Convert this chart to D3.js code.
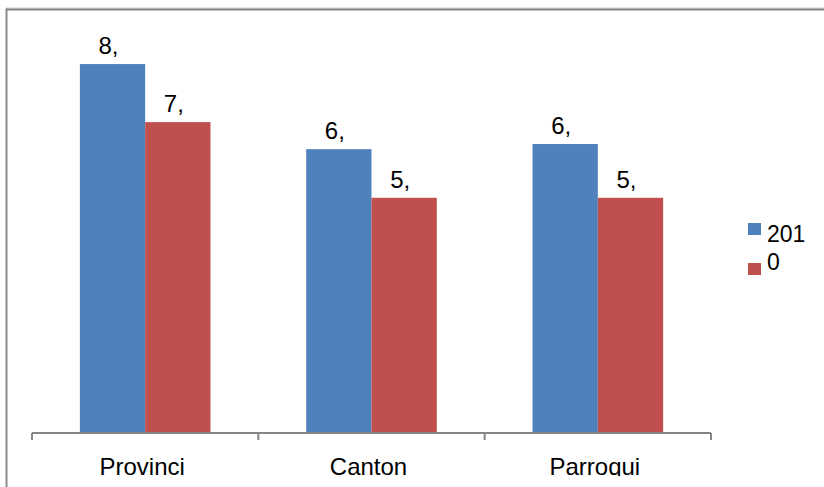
<!DOCTYPE html>
<html>
<head>
<meta charset="utf-8">
<script src="https://cdn.jsdelivr.net/npm/d3@7"></script>
<style>
  html, body { margin: 0; padding: 0; background: #fff; }
  svg { display: block; }
  text { font-family: "Liberation Sans", Arial, sans-serif; fill: #000; }
</style>
</head>
<body>
<svg id="chart" width="824" height="487"></svg>
<script>
// Chart data
const categories = ["Provinci", "Canton", "Parroqui"];
const seriesNames = ["201", "0"];
const seriesA = [8.58, 6.60, 6.72];
const seriesB = [7.23, 5.47, 5.47];
const seriesColors = ["#4F81BD", "#C0504D"];

const svg = d3.select("#chart");
const W = 824, H = 487;

// frame lines (top and left edges of the chart area)
svg.append("line").attr("x1", 6).attr("x2", W).attr("y1", 8).attr("y2", 8)
  .attr("stroke", "#d0d0d0").attr("stroke-width", 1);
svg.append("line").attr("x1", 6).attr("x2", W).attr("y1", 9.5).attr("y2", 9.5)
  .attr("stroke", "#828282").attr("stroke-width", 2);
svg.append("line").attr("x1", 6.5).attr("x2", 6.5).attr("y1", 8.5).attr("y2", H)
  .attr("stroke", "#8a8a8a").attr("stroke-width", 2);

const baseY = 433;
const x0 = d3.scaleBand().domain(categories).range([32, 711]).paddingInner(0).paddingOuter(0);
const x1 = d3.scaleBand().domain(seriesNames).range([0, x0.bandwidth()])
  .paddingInner(0).paddingOuter(0.733);
const y = d3.scaleLinear().domain([0, 10]).range([baseY, 3]);

const rows = categories.map((c, i) => ({
  cat: c,
  vals: [seriesA[i], seriesB[i]]
}));

const groups = svg.append("g").selectAll("g").data(rows).join("g")
  .attr("transform", d => `translate(${x0(d.cat)},0)`);

groups.selectAll("rect")
  .data(d => d.vals.map((v, j) => ({ name: seriesNames[j], v, j })))
  .join("rect")
  .attr("x", d => x1(d.name))
  .attr("width", x1.bandwidth())
  .attr("y", d => y(d.v))
  .attr("height", d => baseY - y(d.v))
  .attr("fill", d => seriesColors[d.j]);

// value labels (integer part with decimal comma)
groups.selectAll("text.val")
  .data(d => d.vals.map((v, j) => ({ name: seriesNames[j], v, j })))
  .join("text")
  .attr("class", "val")
  .attr("x", d => x1(d.name) + x1.bandwidth() / 2 - 4)
  .attr("y", d => y(d.v) - 10)
  .attr("text-anchor", "middle")
  .attr("font-size", 24)
  .text(d => Math.floor(d.v) + ",");

// category axis
const axis = d3.axisBottom(x0).tickSize(0).tickFormat("");
const axisG = svg.append("g").attr("transform", `translate(0,${baseY})`).call(axis);
axisG.select(".domain").attr("stroke", "#868686").attr("stroke-width", 2)
  .attr("d", `M32,0H711`);
const bounds = [...categories.map(c => x0(c)), x0.range()[1]];
axisG.selectAll("line.bound").data(bounds).join("line")
  .attr("class", "bound")
  .attr("x1", d => d).attr("x2", d => d)
  .attr("y1", 0).attr("y2", 7)
  .attr("stroke", "#868686").attr("stroke-width", 2);

// category labels, cut off at the lower edge of the chart area
svg.append("clipPath").attr("id", "labelClip")
  .append("rect").attr("x", 0).attr("y", 0).attr("width", W).attr("height", 476);
svg.append("g").attr("clip-path", "url(#labelClip)")
  .selectAll("text").data(categories).join("text")
  .attr("x", d => x0(d) + x0.bandwidth() / 2 - 3)
  .attr("y", 475)
  .attr("text-anchor", "middle")
  .attr("font-size", 24)
  .text(d => d);

// legend
const legend = svg.append("g");
const legendRows = seriesNames.map((n, i) => ({ n, i }));
legend.selectAll("rect").data(legendRows).join("rect")
  .attr("x", 748).attr("y", d => 223 + d.i * 40)
  .attr("width", 13).attr("height", 12)
  .attr("fill", d => seriesColors[d.i]);
legend.selectAll("text").data(legendRows).join("text")
  .attr("x", 767).attr("y", d => 242 + d.i * 28)
  .attr("font-size", 23)
  .text(d => d.n);
</script>
</body>
</html>
